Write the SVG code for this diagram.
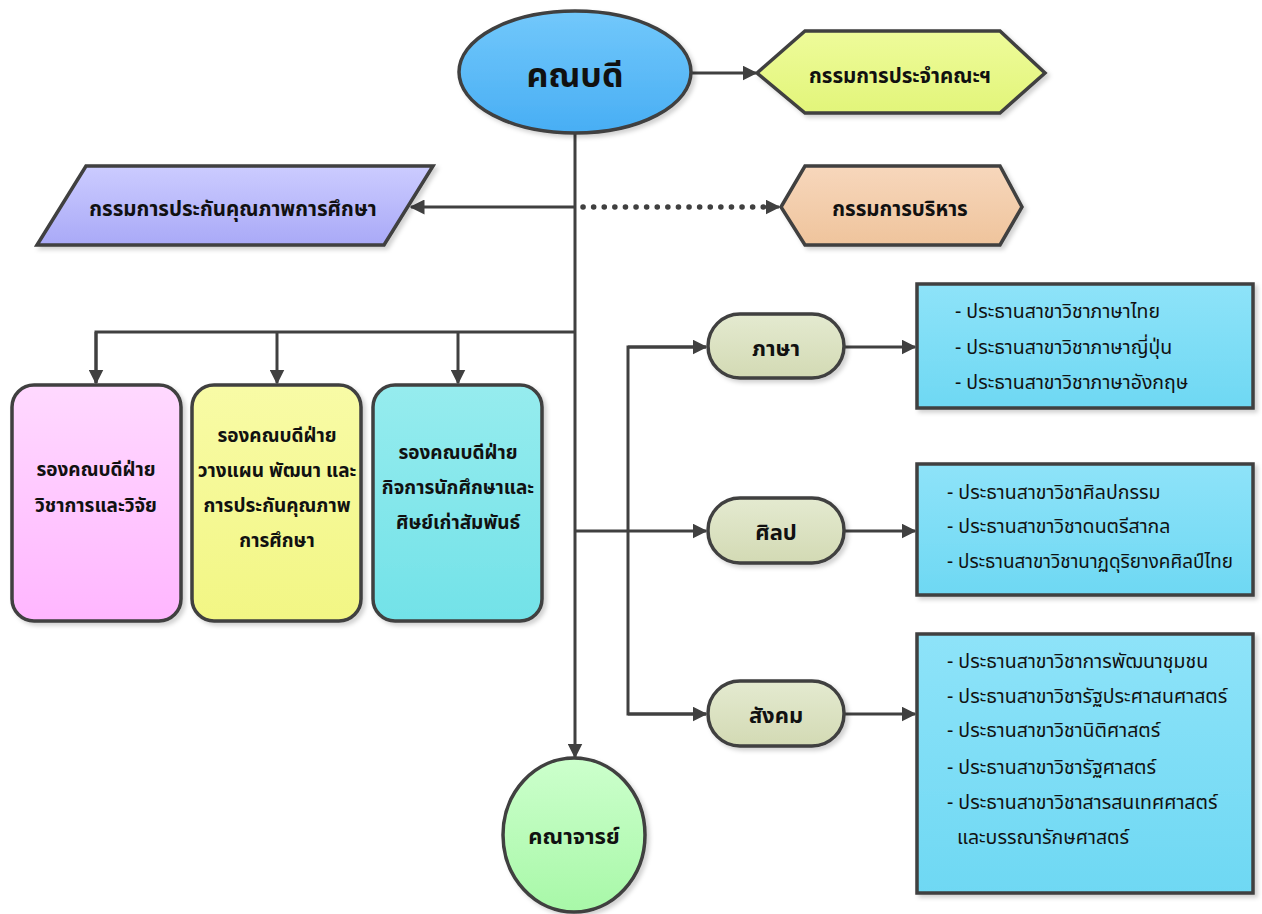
<svg xmlns="http://www.w3.org/2000/svg" width="1262" height="914" viewBox="0 0 1262 914">
<style>
text{font-family:"Noto Sans Thai","Noto Sans","DejaVu Sans",sans-serif;fill:#111;text-anchor:middle}
.lbl{font-size:19px;font-weight:bold}
.big{font-size:20.5px;font-weight:bold}
.pill{font-size:22px;font-weight:bold}
.item{font-size:19.5px;text-anchor:start}
.shape{stroke:#3f3f3f;stroke-width:3.5}
.conn{stroke:#404040;stroke-width:3;fill:none}
.dots{stroke:#404040;stroke-width:5.5;stroke-dasharray:0.1 10.5;stroke-linecap:round;fill:none}
</style>
<defs>
<linearGradient id="gBlue" x1="0" y1="0" x2="0" y2="1"><stop offset="0" stop-color="#72C8FB"/><stop offset="1" stop-color="#48AEF4"/></linearGradient>
<linearGradient id="gYel" x1="0" y1="0" x2="0" y2="1"><stop offset="0" stop-color="#EEFB9A"/><stop offset="1" stop-color="#E2F57A"/></linearGradient>
<linearGradient id="gPur" x1="0" y1="0" x2="0" y2="1"><stop offset="0" stop-color="#CCCCFF"/><stop offset="1" stop-color="#A9A9F7"/></linearGradient>
<linearGradient id="gOra" x1="0" y1="0" x2="0" y2="1"><stop offset="0" stop-color="#F7D7BC"/><stop offset="1" stop-color="#EFC49C"/></linearGradient>
<linearGradient id="gPink" x1="0" y1="0" x2="0" y2="1"><stop offset="0" stop-color="#FFD9FF"/><stop offset="1" stop-color="#FFB6FF"/></linearGradient>
<linearGradient id="gLY" x1="0" y1="0" x2="0" y2="1"><stop offset="0" stop-color="#F8FBA6"/><stop offset="1" stop-color="#F2F684"/></linearGradient>
<linearGradient id="gCyan" x1="0" y1="0" x2="0" y2="1"><stop offset="0" stop-color="#96ECEE"/><stop offset="1" stop-color="#72E2E8"/></linearGradient>
<linearGradient id="gPill" x1="0" y1="0" x2="0" y2="1"><stop offset="0" stop-color="#E4EAD0"/><stop offset="1" stop-color="#D3DAB4"/></linearGradient>
<linearGradient id="gBox" x1="0" y1="0" x2="0" y2="1"><stop offset="0" stop-color="#8EE3F9"/><stop offset="1" stop-color="#6ED8F3"/></linearGradient>
<linearGradient id="gGreen" x1="0" y1="0" x2="0" y2="1"><stop offset="0" stop-color="#CCFFCC"/><stop offset="1" stop-color="#A8F8A8"/></linearGradient>
<filter id="sh" x="-10%" y="-10%" width="130%" height="130%"><feDropShadow dx="3" dy="3" stdDeviation="2" flood-color="#000" flood-opacity="0.18"/></filter>
<marker id="ah" viewBox="0 0 10 10" refX="9" refY="5" markerWidth="15" markerHeight="15" orient="auto" markerUnits="userSpaceOnUse"><path d="M0,0 L10,5 L0,10 z" fill="#404040"/></marker>
</defs>

<g id="connectors">
<line class="conn" x1="575" y1="134" x2="575" y2="757" marker-end="url(#ah)"/>
<line class="conn" x1="692" y1="73" x2="756" y2="73" marker-end="url(#ah)"/>
<line class="conn" x1="575" y1="207" x2="411" y2="207" marker-end="url(#ah)"/>
<line class="dots" x1="583" y1="207" x2="766" y2="207"/>
<line class="conn" x1="765" y1="207" x2="779" y2="207" marker-end="url(#ah)"/>
<polyline class="conn" points="96,383 96,332 575,332"/>
<line class="conn" x1="96" y1="332" x2="96" y2="383" marker-end="url(#ah)"/>
<line class="conn" x1="277" y1="332" x2="277" y2="383" marker-end="url(#ah)"/>
<line class="conn" x1="458" y1="332" x2="458" y2="383" marker-end="url(#ah)"/>
<line class="conn" x1="575" y1="531" x2="628" y2="531"/>
<polyline class="conn" points="706,347 628,347 628,714 706,714"/>
<line class="conn" x1="628" y1="347" x2="706" y2="347" marker-end="url(#ah)"/>
<line class="conn" x1="628" y1="531" x2="706" y2="531" marker-end="url(#ah)"/>
<line class="conn" x1="628" y1="714" x2="706" y2="714" marker-end="url(#ah)"/>
<line class="conn" x1="844" y1="347" x2="915" y2="347" marker-end="url(#ah)"/>
<line class="conn" x1="844" y1="531" x2="915" y2="531" marker-end="url(#ah)"/>
<line class="conn" x1="844" y1="714" x2="915" y2="714" marker-end="url(#ah)"/>
</g>

<g id="dean">
<ellipse class="shape" cx="575" cy="72" rx="116" ry="61" fill="url(#gBlue)" filter="url(#sh)"/>
<text x="575" y="87" style="font-size:34px;font-weight:bold">คณบดี</text>
</g>

<g id="faculty-committee">
<polygon class="shape" points="757,73 805,31 1000,31 1045,73 1000,113 805,113" fill="url(#gYel)" filter="url(#sh)"/>
<text class="big" x="900" y="83">กรรมการประจำคณะฯ</text>
</g>

<g id="qa-committee">
<polygon class="shape" points="86,166 433,166 384,245 37,245" fill="url(#gPur)" filter="url(#sh)"/>
<text class="big" x="233" y="216">กรรมการประกันคุณภาพการศึกษา</text>
</g>

<g id="exec-committee">
<polygon class="shape" points="781,207 805,166 1000,166 1022,207 1000,245 805,245" fill="url(#gOra)" filter="url(#sh)"/>
<text class="big" x="900" y="216">กรรมการบริหาร</text>
</g>

<g id="vp-academic">
<rect class="shape" x="12" y="385" width="169" height="236" rx="22" fill="url(#gPink)" filter="url(#sh)"/>
<text class="lbl" x="96" y="476">รองคณบดีฝ่าย</text>
<text class="lbl" x="96" y="512">วิชาการและวิจัย</text>
</g>

<g id="vp-planning">
<rect class="shape" x="192" y="385" width="169" height="236" rx="22" fill="url(#gLY)" filter="url(#sh)"/>
<text class="lbl" x="277" y="442">รองคณบดีฝ่าย</text>
<text class="lbl" x="277" y="477">วางแผน พัฒนา และ</text>
<text class="lbl" x="277" y="512">การประกันคุณภาพ</text>
<text class="lbl" x="277" y="547">การศึกษา</text>
</g>

<g id="vp-student">
<rect class="shape" x="373" y="385" width="169" height="236" rx="22" fill="url(#gCyan)" filter="url(#sh)"/>
<text class="lbl" x="458" y="459">รองคณบดีฝ่าย</text>
<text class="lbl" x="458" y="494">กิจการนักศึกษาและ</text>
<text class="lbl" x="458" y="529">ศิษย์เก่าสัมพันธ์</text>
</g>

<g id="lang">
<rect class="shape" x="708" y="314" width="136" height="64" rx="32" fill="url(#gPill)" filter="url(#sh)"/>
<text class="pill" x="776" y="356">ภาษา</text>
</g>

<g id="arts">
<rect class="shape" x="708" y="498" width="136" height="65" rx="32" fill="url(#gPill)" filter="url(#sh)"/>
<text class="pill" x="776" y="540">ศิลป</text>
</g>

<g id="social">
<rect class="shape" x="708" y="681" width="136" height="65" rx="32" fill="url(#gPill)" filter="url(#sh)"/>
<text class="pill" x="776" y="723">สังคม</text>
</g>

<g id="lang-list">
<rect class="shape" x="917" y="284" width="336" height="124" fill="url(#gBox)" filter="url(#sh)"/>
<text class="item" x="955" y="318">- ประธานสาขาวิชาภาษาไทย</text>
<text class="item" x="955" y="354">- ประธานสาขาวิชาภาษาญี่ปุ่น</text>
<text class="item" x="955" y="389">- ประธานสาขาวิชาภาษาอังกฤษ</text>
</g>

<g id="arts-list">
<rect class="shape" x="917" y="464" width="336" height="131" fill="url(#gBox)" filter="url(#sh)"/>
<text class="item" x="947" y="499">- ประธานสาขาวิชาศิลปกรรม</text>
<text class="item" x="947" y="533">- ประธานสาขาวิชาดนตรีสากล</text>
<text class="item" x="947" y="568" textLength="286" lengthAdjust="spacingAndGlyphs">- ประธานสาขาวิชานาฏดุริยางคศิลป์ไทย</text>
</g>

<g id="social-list">
<rect class="shape" x="917" y="634" width="336" height="259" fill="url(#gBox)" filter="url(#sh)"/>
<text class="item" x="947" y="668">- ประธานสาขาวิชาการพัฒนาชุมชน</text>
<text class="item" x="947" y="703">- ประธานสาขาวิชารัฐประศาสนศาสตร์</text>
<text class="item" x="947" y="737">- ประธานสาขาวิชานิติศาสตร์</text>
<text class="item" x="947" y="774">- ประธานสาขาวิชารัฐศาสตร์</text>
<text class="item" x="947" y="809">- ประธานสาขาวิชาสารสนเทศศาสตร์</text>
<text class="item" x="957" y="844">และบรรณารักษศาสตร์</text>
</g>

<g id="faculty-members">
<ellipse class="shape" cx="574" cy="835" rx="71" ry="77" fill="url(#gGreen)" filter="url(#sh)"/>
<text class="pill" x="574" y="844">คณาจารย์</text>
</g>
</svg>
